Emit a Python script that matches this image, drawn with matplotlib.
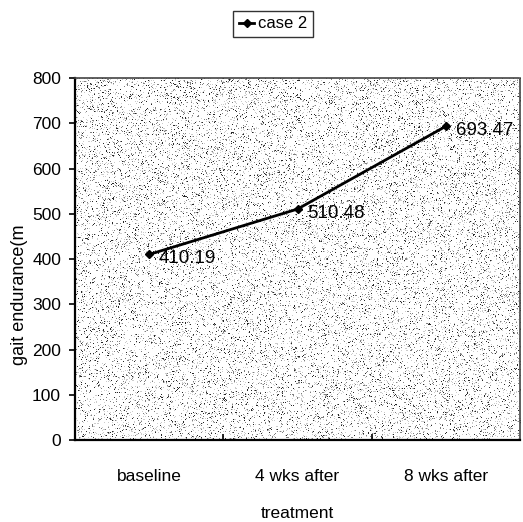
import numpy as np
import matplotlib.pyplot as plt

# Data
categories = ["baseline", "4 wks after", "8 wks after"]
values = [410.19, 510.48, 693.47]
value_labels = ["410.19", "510.48", "693.47"]
series_name = "case 2"
y_ticks = [0, 100, 200, 300, 400, 500, 600, 700, 800]

narrow = ['Liberation Sans Narrow', 'Liberation Sans', 'DejaVu Sans']
regular = ['Liberation Sans', 'DejaVu Sans']

fig = plt.figure(figsize=(5.23, 5.22), dpi=100)
ax = fig.add_axes([0.1434, 0.157, 0.851, 0.6935])

# speckled scanned-looking background of the plot area
rng = np.random.default_rng(3)
h, w = 362, 445
noise = rng.random((h, w))
tex = np.ones((h, w))
tex[noise < 0.15] = 0.8
tex[noise < 0.08] = 0.5
tex[noise < 0.03] = 0.15
ax.imshow(tex, cmap='gray', vmin=0, vmax=1, interpolation='nearest',
          extent=[0, 1, 0, 1], transform=ax.transAxes, aspect='auto', zorder=0)

x = np.arange(len(categories))
ax.plot(x, values, color='black', lw=2, marker='D', markersize=4,
        label=series_name, zorder=3)

for xi, v, lab in zip(x, values, value_labels):
    ax.annotate(lab, (xi, v), xytext=(7, -3), textcoords='offset points',
                ha='left', va='center', fontsize=13.5, family=narrow,
                color='black', zorder=4)

ax.set_xlim(-0.5, 2.5)
ax.set_ylim(0, 800)
ax.set_yticks(y_ticks)
ax.set_yticklabels([str(t) for t in y_ticks], family=narrow, fontsize=12.5)
ax.set_xticks(x)
ax.set_xticklabels(categories, family=narrow, fontsize=12.5)
ax.set_xticks([0.5, 1.5], minor=True)
ax.tick_params(axis='x', which='major', length=0, pad=21)
ax.tick_params(axis='x', which='minor', length=4, direction='in', width=1.2)
ax.tick_params(axis='y', length=4, width=1.2, direction='out', pad=6)

ax.set_ylabel("gait endurance(m", family=regular, fontsize=13)
ax.yaxis.set_label_coords(-0.106, 0.40)
ax.set_xlabel("treatment", family=narrow, fontsize=12.5, labelpad=16)

for s in ['left', 'bottom']:
    ax.spines[s].set_linewidth(1.6)
for s in ['top', 'right']:
    ax.spines[s].set_linewidth(1.2)
    ax.spines[s].set_color('#444444')
    ax.spines[s].set_linestyle((0, (2, 1)))

leg = fig.legend(loc='center', bbox_to_anchor=(273 / 523, 1 - 24 / 522),
                 frameon=True, fancybox=False, edgecolor='black',
                 handlelength=0.9, handletextpad=0.2, borderpad=0.35,
                 borderaxespad=0, prop={'family': narrow, 'size': 12})
leg.get_frame().set_linewidth(1.0)

fig.savefig("out.png", dpi=100)
